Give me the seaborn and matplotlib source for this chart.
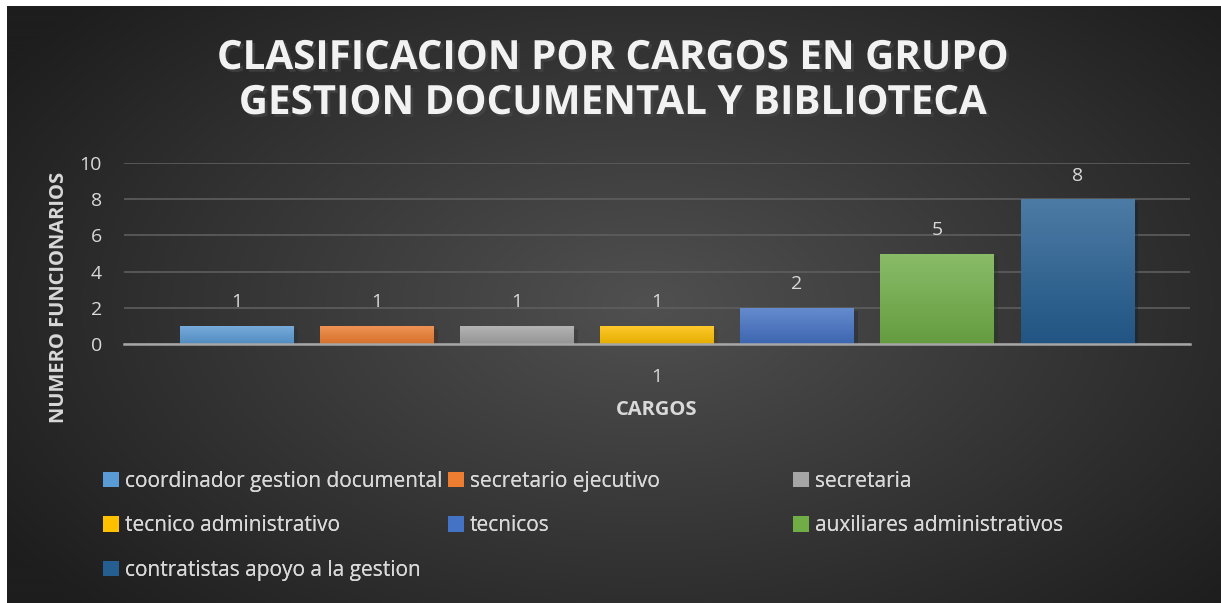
import numpy as np
import pandas as pd
import matplotlib
matplotlib.use("Agg")
import matplotlib.pyplot as plt
import matplotlib.patheffects as pe
from matplotlib.colors import to_rgb
from matplotlib.patches import Patch
import seaborn as sns

# ---- data ----
cargos = ["coordinador gestion documental", "secretario ejecutivo", "secretaria",
          "tecnico administrativo", "tecnicos", "auxiliares administrativos",
          "contratistas apoyo a la gestion"]
cantidad = [1, 1, 1, 1, 2, 5, 8]
grupo = ["1"] * len(cargos)
colores = ["#5B9BD5", "#ED7D31", "#A5A5A5", "#FFC000", "#4472C4", "#70AD47", "#255E91"]

titulo = "CLASIFICACION POR CARGOS EN GRUPO\nGESTION DOCUMENTAL Y BIBLIOTECA"
y_ticks = [0, 2, 4, 6, 8, 10]

df = pd.DataFrame({"grupo": grupo, "cargo": cargos, "cantidad": cantidad})

sns.set_theme(style="dark")
plt.rcParams["font.family"] = ["Open Sans", "DejaVu Sans"]
txt = "#D9D9D9"

fig = plt.figure(figsize=(12.21, 6.03), dpi=100)
fig.patch.set_facecolor("white")

# background with radial gradient (Excel style)
bg = fig.add_axes([7 / 1221, 0, 1 - 7 / 1221, 1 - 6 / 603], zorder=-10)
h, w = 600, 1214
yy, xx = np.mgrid[0:h, 0:w]
r = np.sqrt(((xx - 640) / 900) ** 2 + ((yy - 300) / 520) ** 2)
r = np.clip(r / 0.85, 0, 1)
c0 = np.array(to_rgb("#505050"))
c1 = np.array(to_rgb("#1E1E1E"))
img = c0[None, None, :] * (1 - r[..., None]) + c1[None, None, :] * r[..., None]
bg.imshow(img, aspect="auto", extent=[0, 1, 0, 1])
bg.set_axis_off()

ax = fig.add_axes([124 / 1221, 1 - 344 / 603, (1190 - 124) / 1221, (344 - 163) / 603])
ax.patch.set_alpha(0)

sns.barplot(data=df, x="grupo", y="cantidad", hue="cargo", palette=colores,
            width=0.92, gap=0.19, ax=ax, legend=False, saturation=1, linewidth=0)

ax.set_ylim(0, 10)
ax.set_xlim(-0.5, 0.5)
ax.set_yticks(y_ticks)
ax.grid(axis="y", color="#5E5E5E", linewidth=1.2)
ax.grid(axis="x", visible=False)
for s in ["top", "right", "left"]:
    ax.spines[s].set_visible(False)
ax.spines["bottom"].set_color("#A6A6A6")
ax.spines["bottom"].set_linewidth(1.8)
ax.spines["bottom"].set_zorder(5)
ax.tick_params(axis="y", colors=txt, labelsize=14, length=0, pad=16)
ax.tick_params(axis="x", colors=txt, labelsize=14, length=0, pad=17)

# gradient fill on bars + value labels
for bar, col, val in zip(ax.patches, colores, cantidad):
    x0, y0 = bar.get_x(), bar.get_y()
    bw, bh = bar.get_width(), bar.get_height()
    base = np.array(to_rgb(col))
    top = base + (1 - base) * 0.18
    bot = base * 0.9
    t = np.linspace(0, 1, 100)[:, None]
    grad = (top[None, :] * (1 - t) + bot[None, :] * t)[:, None, :]
    bar.set_path_effects([pe.SimplePatchShadow(offset=(3, -2), alpha=0.35), pe.Normal()])
    im = ax.imshow(grad, extent=[x0, x0 + bw, y0, y0 + bh], aspect="auto", zorder=3)
    im.set_clip_path(bar)
    ax.text(x0 + bw / 2, y0 + bh + 1.3, str(val), ha="center", va="center",
            color=txt, fontsize=14)
ax.set_xlim(-0.5, 0.5)
ax.set_ylim(0, 10)

ax.set_xlabel("CARGOS", color=txt, fontsize=14.5, fontweight="bold")
ax.xaxis.set_label_coords(0.5, -0.31)
ax.set_ylabel("NUMERO FUNCIONARIOS", color=txt, fontsize=14.5, fontweight="bold")
ax.yaxis.set_label_coords(-0.052, 0.26)

fig.text(613 / 1221, 1 - 81 / 603, titulo, ha="center", va="center",
         color="#F2F2F2", fontsize=29, fontweight="bold", linespacing=1.2,
         path_effects=[pe.withSimplePatchShadow(offset=(2, -2), alpha=0.6)])

# legend laid out row-wise in three equal columns like the original
col_x = [103 / 1221, 448 / 1221, 793 / 1221]
orden = [[0, 3, 6], [1, 4], [2, 5]]
for cx, idxs in zip(col_x, orden):
    handles = [Patch(facecolor=colores[i], edgecolor="none", label=cargos[i]) for i in idxs]
    leg = fig.legend(handles=handles, loc="upper left", bbox_to_anchor=(cx, 1 - 471 / 603),
                     frameon=False, fontsize=15, labelcolor=txt, handlelength=0.75,
                     handleheight=0.75, handletextpad=0.3, labelspacing=1.12,
                     borderaxespad=0, borderpad=0)
    fig.add_artist(leg)

fig.savefig("out.png", dpi=100)
